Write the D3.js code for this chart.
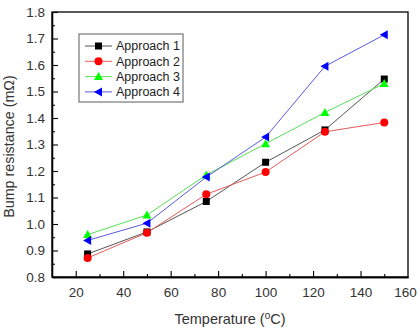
<!DOCTYPE html>
<html><head><meta charset="utf-8">
<script src="https://cdn.jsdelivr.net/npm/d3@7"></script>
<style>body{margin:0;background:#fff}svg{display:block}text{font-family:"Liberation Sans",Arial,sans-serif}</style>
</head><body><svg id="c" width="418" height="329"></svg>
<script>
const temps = [25, 50, 75, 100, 125, 150];
const approach1 = [0.887, 0.970, 1.085, 1.233, 1.355, 1.547];
const approach2 = [0.872, 0.967, 1.112, 1.196, 1.348, 1.383];
const approach3 = [0.960, 1.034, 1.185, 1.303, 1.421, 1.530];
const approach4 = [0.938, 1.003, 1.177, 1.328, 1.595, 1.714];
const seriesNames = ["Approach 1", "Approach 2", "Approach 3", "Approach 4"];
const xTicks = [20, 40, 60, 80, 100, 120, 140, 160];
const yTicks = [0.8, 0.9, 1.0, 1.1, 1.2, 1.3, 1.4, 1.5, 1.6, 1.7, 1.8];

const series = [
  {name: seriesNames[0], values: approach1, marker: "square", fill: "#000", line: "#555"},
  {name: seriesNames[1], values: approach2, marker: "circle", fill: "#f00", line: "#e85a5a"},
  {name: seriesNames[2], values: approach3, marker: "up", fill: "#0f0", line: "#55e055"},
  {name: seriesNames[3], values: approach4, marker: "left", fill: "#00f", line: "#5a5ae0"}
];

const svg = d3.select("#c");
const L = 52, R = 408, T = 12, B = 277;
const x = d3.scaleLinear().domain([10, 160]).range([L, R]);
const y = d3.scaleLinear().domain([0.8, 1.8]).range([B, T]);

svg.append("rect").attr("x", L).attr("y", T).attr("width", R - L).attr("height", B - T)
  .attr("fill", "none").attr("stroke", "#000").attr("stroke-width", 1.3);

const xAxis = d3.axisBottom(x).tickValues(xTicks).tickSizeInner(-6).tickSizeOuter(0).tickPadding(10).tickFormat(d3.format("d"));
const gx = svg.append("g").attr("transform", `translate(0,${B})`).call(xAxis);
const xMinor = d3.axisBottom(x).tickValues(d3.range(30, 160, 20)).tickSizeInner(-3).tickSizeOuter(0).tickFormat("");
const gxm = svg.append("g").attr("transform", `translate(0,${B})`).call(xMinor);
const yAxis = d3.axisLeft(y).tickValues(yTicks).tickSizeInner(-6).tickSizeOuter(0).tickPadding(7).tickFormat(d3.format(".1f"));
const gy = svg.append("g").attr("transform", `translate(${L},0)`).call(yAxis);
const yMinor = d3.axisLeft(y).tickValues(d3.range(0.85, 1.8, 0.1)).tickSizeInner(-3).tickSizeOuter(0).tickFormat("");
const gym = svg.append("g").attr("transform", `translate(${L},0)`).call(yMinor);
[gx, gxm, gy, gym].forEach(g => {
  g.select(".domain").attr("stroke", "#000").attr("stroke-width", 1.3);
  g.selectAll(".tick line").attr("stroke", "#000").attr("stroke-width", 1.1);
  g.selectAll(".tick text").attr("font-size", 13.5).attr("fill", "#333").attr("font-family", '"Liberation Sans",Arial,sans-serif');
});
const lastTick = gx.selectAll(".tick").filter(d => d === 160);
lastTick.select("line").attr("opacity", 0);
lastTick.select("text").attr("dx", -3);

svg.append("text").attr("x", (L + R) / 2).attr("y", 324).attr("text-anchor", "middle")
  .attr("font-size", 14.5).attr("fill", "#333").html('Temperature (<tspan dy="-5" font-size="10">o</tspan><tspan dy="5">C)</tspan>');
svg.append("text").attr("transform", `translate(14,${(T + B) / 2 + 2}) rotate(-90)`).attr("text-anchor", "middle")
  .attr("font-size", 14.3).attr("fill", "#333").text("Bump resistance (m\u03A9)");

function drawMarker(g, type, fill, cx, cy) {
  if (type === "square") g.append("rect").attr("x", cx - 3.5).attr("y", cy - 3.5).attr("width", 7).attr("height", 7).attr("fill", fill);
  else if (type === "circle") g.append("circle").attr("cx", cx).attr("cy", cy).attr("r", 4).attr("fill", fill);
  else if (type === "up") g.append("path").attr("d", `M${cx},${cy - 4.5}L${cx + 4.5},${cy + 3.5}L${cx - 4.5},${cy + 3.5}Z`).attr("fill", fill);
  else g.append("path").attr("d", `M${cx - 4.5},${cy}L${cx + 3.5},${cy - 4.5}L${cx + 3.5},${cy + 4.5}Z`).attr("fill", fill);
}

const line = d3.line().x((d, i) => x(temps[i])).y(d => y(d));
series.forEach(s => {
  svg.append("path").datum(s.values).attr("d", line).attr("fill", "none").attr("stroke", s.line).attr("stroke-width", 1);
});
series.forEach(s => {
  const g = svg.append("g");
  s.values.forEach((v, i) => drawMarker(g, s.marker, s.fill, x(temps[i]), y(v)));
});

const lg = svg.append("g");
lg.append("rect").attr("x", 79).attr("y", 34).attr("width", 104).attr("height", 68)
  .attr("fill", "#fff").attr("stroke", "#777").attr("stroke-width", 1.2);
series.forEach((s, i) => {
  const yy = 46 + i * 15.3;
  lg.append("line").attr("x1", 85).attr("x2", 112).attr("y1", yy).attr("y2", yy).attr("stroke", s.line).attr("stroke-width", 1);
  drawMarker(lg, s.marker, s.fill, 98.5, yy);
  lg.append("text").attr("x", 116).attr("y", yy + 4.3).attr("font-size", 12.5).attr("fill", "#222").text(s.name);
});
</script></body></html>
